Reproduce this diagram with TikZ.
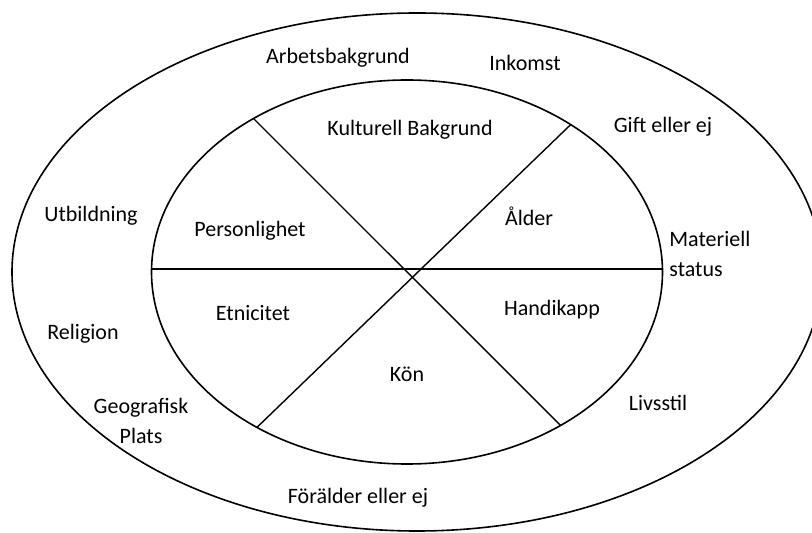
\documentclass[tikz,border=0pt]{standalone}
\usepackage{fontspec}
\setmainfont{Carlito}
\usetikzlibrary{shapes.geometric}

\begin{document}
\begin{tikzpicture}[x=0.5pt,y=-0.5pt,
    ring/.style={draw,ellipse,inner sep=0pt,outer sep=0pt,line width=0.8pt},
    lbl/.style={font=\fontsize{11}{15}\selectfont,align=center,inner sep=0pt}]
    \useasboundingbox (0,0) rectangle (812,533);
    \path
        (417,272)   node[ring,minimum width=405pt,minimum height=259pt] (outer){}
        (407,272)   node[ring,minimum width=255.5pt,minimum height=192pt] (inner){}
        ;
    \draw [line width=0.7pt] ([yshift=1.5pt]inner.west)--([yshift=1.5pt]inner.east);
    \draw [line width=0.7pt] (inner.135.4)--(inner.-45.7);
    \draw [line width=0.7pt] (inner.42.4)--(inner.-134.1);
    % inre ring
    \path
        (410,130)   node[lbl] (kultur){Kulturell Bakgrund}
        (250,231)   node[lbl] (person){Personlighet}
        (529,216)   node[lbl] (alder){Ålder}
        (253,313)   node[lbl] (etnicitet){Etnicitet}
        (552,310)   node[lbl] (handikapp){Handikapp}
        (407,374)   node[lbl] (kon){Kön}
        ;
    % yttre ring
    \path
        (338,58)    node[lbl] (arbete){Arbetsbakgrund}
        (525,63)    node[lbl] (inkomst){Inkomst}
        (663,127)   node[lbl] (gift){Gift eller ej}
        (91,216)    node[lbl] (utbild){Utbildning}
        (669,254)   node[lbl,align=left,anchor=west] (materiell){Materiell\\status}
        (83,334)    node[lbl] (religion){Religion}
        (141,421)   node[lbl] (geografi){Geografisk\\Plats}
        (658,403)   node[lbl] (livsstil){Livsstil}
        (358,498)   node[lbl] (foralder){Förälder eller ej}
        ;
\end{tikzpicture}
\end{document}
